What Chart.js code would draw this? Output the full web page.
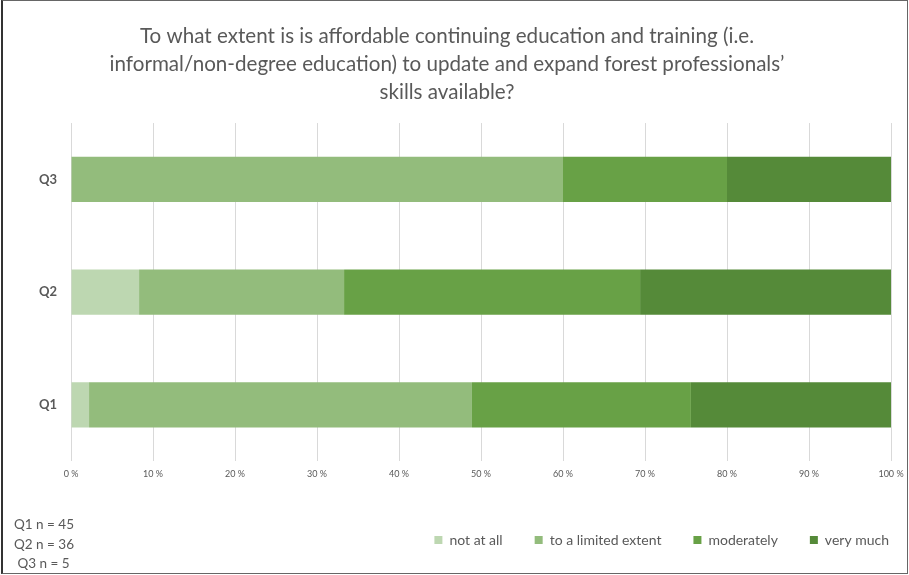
<!DOCTYPE html>
<html>
<head>
<meta charset="utf-8">
<script src="https://cdn.jsdelivr.net/npm/chart.js@4"></script>
<style>
  body { margin: 0; background: #fff; }
  #wrap {
    position: absolute; left: 1px; top: 0;
    width: 904px; height: 572px;
    border: 1px solid #666; border-left: 2px solid #333;
  }
  #notes {
    position: absolute; left: 11px; top: 514px;
    font-family: Lato, sans-serif; font-size: 13.5px; color: #595959;
    line-height: 19.5px;
  }
</style>
</head>
<body>
<div id="wrap">
  <canvas id="PerformanceChart" width="904" height="572"></canvas>
  <div id="notes">Q1 n = 45<br>Q2 n = 36<br>&nbsp;Q3 n = 5</div>
</div>
<script>
var categories = ['Q1', 'Q2', 'Q3']
var seriesNames = ['not at all', 'to a limited extent', 'moderately', 'very much']
var notAtAll = [2.2, 8.3, 0]
var limited = [46.7, 25.0, 60]
var moderately = [26.7, 36.1, 20]
var veryMuch = [24.4, 30.6, 20]
var tickValues = [0, 10, 20, 30, 40, 50, 60, 70, 80, 90, 100]

var colors = ['#bdd7b1', '#93bc7c', '#68a146', '#558a39']
var values = [notAtAll, limited, moderately, veryMuch]

// legend sits flush right in the original, move it over past the trailing padding
var legendShift = {
    id: 'legendShift',
    afterLayout: function (chart) {
        chart.legend.left += 30
        chart.legend.right += 30
    }
}

var ctx = document.getElementById('PerformanceChart')

var PerformanceChart = new Chart(ctx, {
    type: 'bar',
    data: {
        labels: categories,
        datasets: seriesNames.map(function (name, i) {
            return {
                label: name,
                data: values[i],
                backgroundColor: colors[i],
                borderWidth: 0,
                barPercentage: 0.4,
                categoryPercentage: 1
            }
        })
    },
    plugins: [legendShift],
    options: {
        responsive: false,
        animation: false,
        indexAxis: 'y',
        layout: { padding: { left: 0, right: 16, top: 0, bottom: 16 } },
        scales: {
            x: {
                stacked: true,
                min: 0,
                max: 100,
                afterBuildTicks: function (scale) {
                    scale.ticks = tickValues.map(function (v) { return { value: v } })
                },
                afterFit: function (scale) {
                    scale.paddingLeft = 0
                    scale.paddingRight = 0
                },
                ticks: {
                    callback: function (v) { return v + ' %' },
                    color: '#595959',
                    font: { family: 'Lato', size: 9 },
                    padding: 7,
                    maxRotation: 0
                },
                grid: { color: '#d9d9d9', drawTicks: false },
                border: { display: false }
            },
            y: {
                stacked: true,
                reverse: true,
                afterFit: function (scale) { scale.width = 68 },
                ticks: {
                    color: '#595959',
                    font: { family: 'Lato', size: 13, weight: 'bold' },
                    padding: 14
                },
                grid: { display: false, drawTicks: false },
                border: { display: false }
            }
        },
        plugins: {
            title: {
                display: true,
                text: ['To what extent is is affordable continuing education and training (i.e.',
                       'informal/non-degree education) to update and expand forest professionals\u2019',
                       'skills available?'],
                color: '#595959',
                font: { family: 'Lato', size: 20.6, weight: 'normal', lineHeight: 1.36 },
                padding: { top: 21, bottom: 17 }
            },
            legend: {
                position: 'bottom',
                align: 'end',
                title: { display: true, text: '', font: { size: 1, lineHeight: 1 }, padding: 7 },
                labels: {
                    boxWidth: 8,
                    boxHeight: 8,
                    padding: 32,
                    color: '#595959',
                    font: { family: 'Lato', size: 14 }
                }
            },
            tooltip: { enabled: false }
        }
    }
});
</script>
</body>
</html>
